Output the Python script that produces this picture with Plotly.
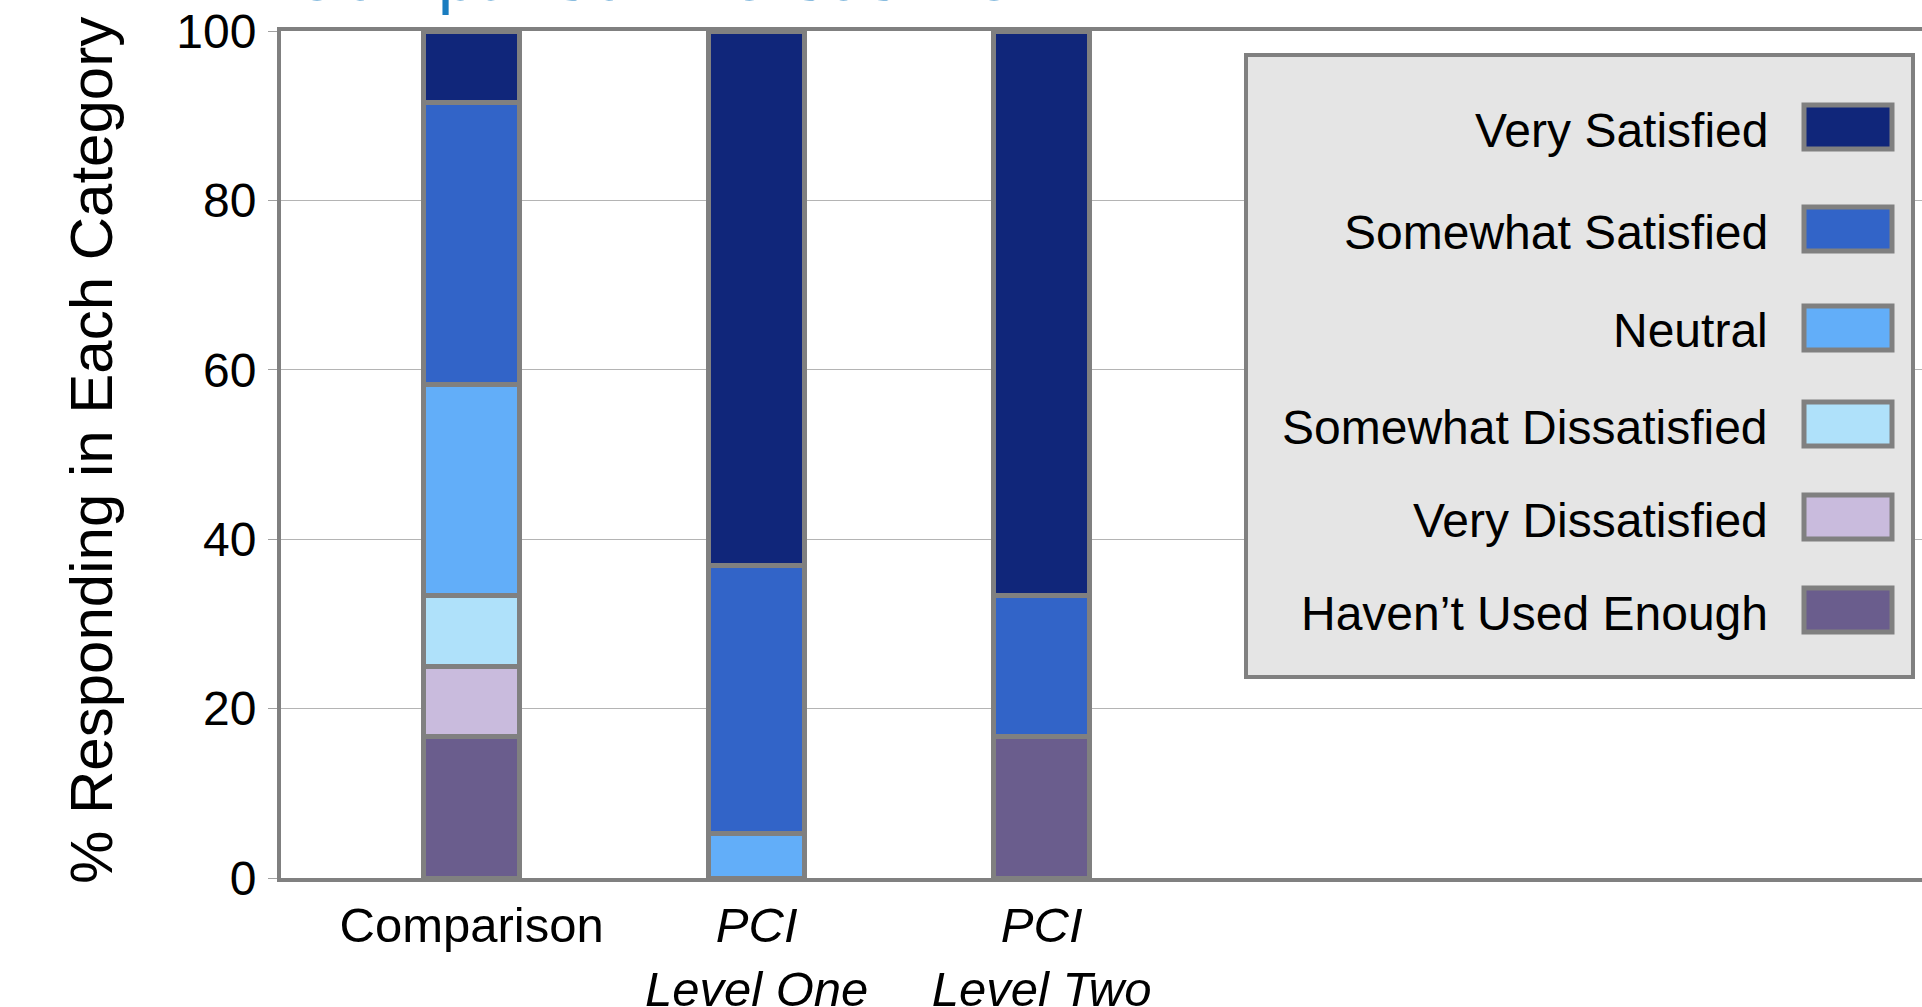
import plotly.graph_objects as go

# --- data -------------------------------------------------------------------
groups = ["Comparison", "PCI Level One", "PCI Level Two"]
group_labels = ["Comparison", "<i>PCI</i><br><i>Level One</i>", "<i>PCI</i><br><i>Level Two</i>"]

# stacked from the bottom up
categories = [
    "Haven\u2019t Used Enough",
    "Very Dissatisfied",
    "Somewhat Dissatisfied",
    "Neutral",
    "Somewhat Satisfied",
    "Very Satisfied",
]
havent_used = [16.7, None, 16.7]
very_dissatisfied = [8.3, None, None]
somewhat_dissatisfied = [8.3, None, None]
neutral = [25.0, 5.3, None]
somewhat_satisfied = [33.3, 31.6, 16.6]
very_satisfied = [8.4, 63.1, 66.7]
series = [havent_used, very_dissatisfied, somewhat_dissatisfied,
          neutral, somewhat_satisfied, very_satisfied]

colors = ["#6A5D8D", "#C9BBDD", "#AFE1FA", "#62AEF9", "#3264C8", "#10267A"]
y_ticks = [0, 20, 40, 60, 80, 100]

# --- layout geometry (pixels) ----------------------------------------------
W, H = 1922, 1007
PLOT_L, PLOT_R, PLOT_T, PLOT_B = 281, 1922, 31, 878
OUTLINE = "#808080"
FONT = "Liberation Sans, Arial, sans-serif"


def px_x(px):
    return (px - PLOT_L) / (PLOT_R - PLOT_L)


def px_y(py):
    return (PLOT_B - py) / (PLOT_B - PLOT_T)


fig = go.Figure()
for name, vals, col in zip(categories, series, colors):
    fig.add_trace(go.Bar(
        x=groups, y=vals, name=name, width=0.337,
        marker=dict(color=col, line=dict(color=OUTLINE, width=5)),
        showlegend=False,
    ))

# --- legend box with swatches on the right ---------------------------------
shapes = [dict(type="rect", xref="paper", yref="paper",
               x0=px_x(1246), x1=px_x(1913), y0=px_y(677), y1=px_y(55),
               fillcolor="#E5E5E5", line=dict(color=OUTLINE, width=4), layer="above")]
annotations = []
legend_rows = [127, 229, 328, 424, 517, 610]          # top to bottom
legend_order = list(reversed(range(len(categories))))  # Very Satisfied first
for row_y, idx in zip(legend_rows, legend_order):
    shapes.append(dict(type="rect", xref="paper", yref="paper",
                       x0=px_x(1804), x1=px_x(1892),
                       y0=px_y(row_y + 22), y1=px_y(row_y - 22),
                       fillcolor=colors[idx], line=dict(color=OUTLINE, width=5),
                       layer="above"))
    annotations.append(dict(xref="paper", yref="paper", x=px_x(1770), y=px_y(row_y + 3),
                            xanchor="right", yanchor="middle", showarrow=False,
                            text=categories[idx],
                            font=dict(family=FONT, size=48, color="black")))

# y-axis title
annotations.append(dict(xref="paper", yref="paper", x=px_x(91), y=px_y(451),
                        xanchor="center", yanchor="middle", showarrow=False,
                        textangle=-90, text="% Responding in Each Category",
                        font=dict(family=FONT, size=60, color="black")))

# chart title (sits above the plot frame)
annotations.append(dict(xref="paper", yref="paper", x=px_x(288), y=px_y(17),
                        xanchor="left", yanchor="bottom", showarrow=False,
                        text="Comparison Versus PCI",
                        font=dict(family=FONT, size=70, color="#1A7DC0")))

fig.update_layout(
    width=W, height=H,
    margin=dict(l=PLOT_L, r=W - PLOT_R, t=PLOT_T, b=H - PLOT_B, autoexpand=False),
    barmode="stack",
    plot_bgcolor="white", paper_bgcolor="white",
    font=dict(family=FONT, color="black"),
    shapes=shapes, annotations=annotations,
    xaxis=dict(
        range=[-0.669, 5.089], tickmode="array", tickvals=groups, ticktext=group_labels,
        showline=True, mirror=True, linecolor=OUTLINE, linewidth=4,
        showgrid=False, ticks="", tickfont=dict(size=49), ticklabelstandoff=1,
    ),
    yaxis=dict(
        range=[0, 100], tickmode="array", tickvals=y_ticks,
        showgrid=True, gridcolor="#B4B4B4", gridwidth=1, zeroline=False,
        showline=True, linecolor=OUTLINE, linewidth=4,
        ticks="outside", ticklen=9, tickcolor="#A0A0A0", tickwidth=1,
        tickfont=dict(size=48), ticklabelstandoff=2,
    ),
)

fig.write_html("out.html")
